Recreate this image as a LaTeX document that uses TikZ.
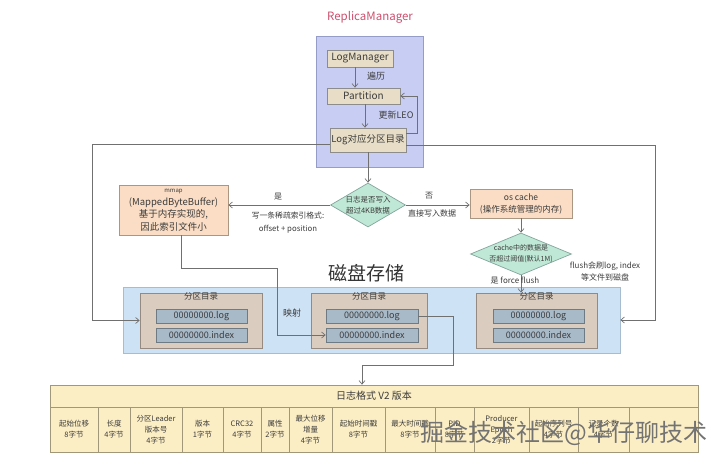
\documentclass[tikz,border=0pt]{standalone}
\usepackage{fontspec}
\setmainfont{Noto Sans CJK SC}
\usetikzlibrary{shapes.geometric,arrows.meta}
\definecolor{rmfill}{RGB}{200,205,243}
\definecolor{rmline}{RGB}{150,156,200}
\definecolor{tanfill}{RGB}{232,222,200}
\definecolor{tanline}{RGB}{140,140,140}
\definecolor{peach}{RGB}{250,221,196}
\definecolor{peachline}{RGB}{170,150,130}
\definecolor{teal}{RGB}{192,232,214}
\definecolor{tealline}{RGB}{130,165,155}
\definecolor{stfill}{RGB}{206,226,245}
\definecolor{stline}{RGB}{168,188,208}
\definecolor{pdfill}{RGB}{218,204,190}
\definecolor{pdline}{RGB}{150,138,128}
\definecolor{ffill}{RGB}{168,185,200}
\definecolor{fline}{RGB}{110,122,132}
\definecolor{tblfill}{RGB}{252,238,196}
\definecolor{tblline}{RGB}{160,152,120}
\definecolor{conn}{RGB}{112,112,112}
\definecolor{titlered}{RGB}{205,80,110}
\definecolor{txt}{RGB}{60,60,60}
\tikzset{
  base/.style={inner sep=0pt, align=center, text=txt},
  rmbox/.style={base, draw=rmline, fill=rmfill, line width=0.7pt},
  tanbox/.style={base, draw=tanline, fill=tanfill, line width=0.7pt, font=\fontsize{9.5}{11}\selectfont},
  peachbox/.style={base, draw=peachline, fill=peach, line width=0.7pt},
  dia/.style={base, shape=diamond, draw=tealline, fill=teal, line width=0.7pt},
  stbox/.style={base, draw=stline, fill=stfill, line width=0.7pt},
  pdbox/.style={base, draw=pdline, fill=pdfill, line width=0.7pt, minimum height=55pt},
  filebox/.style={base, draw=fline, fill=ffill, line width=0.7pt, minimum height=14pt, font=\fontsize{9}{10}\selectfont\itshape},
  cell/.style={base, draw=tblline, fill=tblfill, line width=0.7pt, minimum height=45pt, font=\fontsize{7.5}{11}\selectfont},
  lbl/.style={base, font=\fontsize{8}{12}\selectfont},
  arr/.style={draw=conn, line width=0.7pt, -{Straight Barb[length=3.5pt,width=6pt]}},
}
\begin{document}
\begin{tikzpicture}[x=1pt,y=-1pt]
\useasboundingbox (0,0) rectangle (720,465);
\fill[white] (0,0) rectangle (720,465);

% ReplicaManager
\node[base, text=titlered, font=\fontsize{11.5}{13}\selectfont] (title) at (370,17) {ReplicaManager};
\node[rmbox, minimum width=107pt, minimum height=131pt] (rm) at (369.5,101.5) {};
\node[tanbox, minimum width=66pt, minimum height=17pt, font=\fontsize{10}{11}\selectfont] (lm) at (360,58.5) {LogManager};
\node[tanbox, minimum width=73pt, minimum height=16pt, font=\fontsize{10}{11}\selectfont] (pt) at (363.5,96) {Partition};
\node[tanbox, minimum width=76pt, minimum height=24pt] (lg) at (368,140) {Log对应分区目录};
\coordinate (a1) at (355,0);
\coordinate (a2) at (365,0);
\draw[arr] (lm.south -| a1) -- (pt.north -| a1);
\draw[arr] (pt.south -| a2) -- (lg.north -| a2);
\coordinate (lp) at (417,133);
\draw[arr] (lp -| lg.east) -- (lp) -- (lp |- pt.east) -- (pt.east);
\node[lbl, font=\fontsize{9}{10}\selectfont] (l1) at (376,76) {遍历};
\node[lbl, font=\fontsize{9}{10}\selectfont] (l2) at (396,115) {更新LEO};

% side connectors
\coordinate (cl) at (92,144);
\coordinate (cr) at (655,145);

% decision 1
\node[dia, minimum width=75pt, minimum height=44pt,
  label={[base, font=\fontsize{7.5}{11}\selectfont]center:日志是否写入\\超过4KB数据}] (d1) at (368,205) {};
\draw[arr] (lg.south) -- (d1.north);

% mmap
\node[peachbox, minimum width=109pt, minimum height=50pt, font=\fontsize{9.5}{12.5}\selectfont] (mm) at (173.5,210)
  {{\fontsize{6}{7}\selectfont mmap}\\(MappedByteBuffer)\\基于内存实现的,\\因此索引文件小};
\draw[arr] (d1.west) -- (d1.west -| mm.east);
\node[lbl] (l3) at (278,197) {是};
\node[lbl, font=\fontsize{7.8}{13}\selectfont] (l4) at (288,223) {写一条稀疏索引格式:\\offset + position};

% os cache
\node[peachbox, minimum width=102pt, minimum height=29pt, font=\fontsize{8.5}{12}\selectfont] (os) at (521,203.5)
  {os cache\\(操作系统管理的内存)};
\draw[arr] (d1.east) -- (d1.east -| os.west);
\node[lbl] (l5) at (429,196) {否};
\node[lbl] (l6) at (432,213) {直接写入数据};

% decision 2
\node[dia, minimum width=101pt, minimum height=42pt,
  label={[base, font=\fontsize{7}{11}\selectfont]center:cache中的数据是\\否超过阈值(默认1M)}] (d2) at (521,254) {};
\draw[arr] (os.south) -- (d2.north);

% storage
\node[base, font=\fontsize{19}{20}\selectfont, text=black!80] (disk) at (366,273) {磁盘存储};
\node[stbox, minimum width=497pt, minimum height=66pt] (st) at (371.5,320) {};

\node[pdbox, minimum width=122pt, label={[base, anchor=north, font=\fontsize{8.5}{10}\selectfont]north:分区目录}] (pd1) at (201,320.5) {};
\node[pdbox, minimum width=116pt, label={[base, anchor=north, font=\fontsize{8.5}{10}\selectfont]north:分区目录}] (pd2) at (369,320.5) {};
\node[pdbox, minimum width=121pt, label={[base, anchor=north, font=\fontsize{8.5}{10}\selectfont]north:分区目录}] (pd3) at (536.5,320.5) {};

\node[filebox, minimum width=91pt] (f1l) at (201.5,316) {00000000.log};
\node[filebox, minimum width=91pt] (f1i) at (201.5,335) {00000000.index};
\node[filebox, minimum width=92pt] (f2l) at (372,316) {00000000.log};
\node[filebox, minimum width=92pt] (f2i) at (372,335) {00000000.index};
\node[filebox, minimum width=91pt] (f3l) at (538.5,316) {00000000.log};
\node[filebox, minimum width=91pt] (f3i) at (538.5,335) {00000000.index};

\draw[arr] (d2.south) -- (d2.south |- pd3.north);
\node[lbl] (l7) at (515,281) {是 force flush};
\node[lbl, font=\fontsize{8}{12}\selectfont] (l8) at (605,271) {flush会刷log, index\\等文件到磁盘};

\draw[arr] (cl -| lg.west) -- (cl) -- (cl |- pd1.west) -- (pd1.west);
\draw[arr] (cr -| lg.east) -- (cr) -- (cr |- st.east) -- (st.east);

\coordinate (m1) at (181,268);
\coordinate (m2) at (277,268);
\draw[arr] (mm.south -| m1) -- (m1) -- (m2) -- (m2 |- f2i.west) -- (f2i.west);
\node[lbl, font=\fontsize{9}{10}\selectfont] (l9) at (292,313) {映射};

% table
\node[cell, minimum width=648pt, minimum height=22pt, font=\fontsize{10}{11}\selectfont] (th) at (374,396) {日志格式 V2 版本};
\coordinate (t1) at (453,365);
\coordinate (t2) at (362,365);
\draw[arr] (f2l.east) -- (f2l.east -| t1) -- (t1) -- (t2) -- (t2 |- th.north);

\node[cell, minimum width=48pt] (c1) at (74,429.5) {起始位移\\8字节};
\node[cell, minimum width=32pt] (c2) at (114,429.5) {长度\\4字节};
\node[cell, minimum width=52pt] (c3) at (156,429.5) {分区Leader\\版本号\\4字节};
\node[cell, minimum width=41pt] (c4) at (202.5,429.5) {版本\\1字节};
\node[cell, minimum width=38pt] (c5) at (242,429.5) {CRC32\\4字节};
\node[cell, minimum width=28pt] (c6) at (275,429.5) {属性\\2字节};
\node[cell, minimum width=43pt] (c7) at (310.5,429.5) {最大位移\\增量\\4字节};
\node[cell, minimum width=53pt] (c8) at (358.5,429.5) {起始时间戳\\8字节};
\node[cell, minimum width=50pt] (c9) at (410,429.5) {最大时间戳\\8字节};
\node[cell, minimum width=39pt] (c10) at (454.5,429.5) {PID\\8字节};
\node[cell, minimum width=55pt] (c11) at (501.5,429.5) {Producer\\Epoch\\2字节};
\node[cell, minimum width=49pt] (c12) at (553.5,429.5) {起始序列号\\4字节};
\node[cell, minimum width=51pt] (c13) at (603.5,429.5) {记录个数\\4字节};
\node[cell, minimum width=69pt] (c14) at (663.5,429.5) {};

% watermark
\node[base, text=black!55, font=\fontsize{24}{26}\selectfont] (wm) at (564,433) {掘金技术社区@华仔聊技术};
\end{tikzpicture}
\end{document}
